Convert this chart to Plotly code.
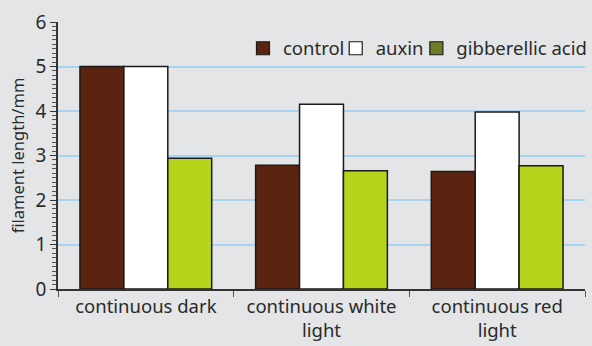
import plotly.graph_objects as go

categories = ["continuous dark", "continuous white<br>light", "continuous red<br>light"]
series_names = ["control", "auxin", "gibberellic acid"]
control = [5.0, 2.78, 2.64]
auxin = [5.0, 4.15, 3.98]
gibberellic = [2.94, 2.66, 2.77]
y_ticks = [0, 1, 2, 3, 4, 5, 6]

bar_colors = ["#5a2410", "#ffffff", "#b6d41c"]
legend_colors = ["#5a2410", "#ffffff", "#6e7d25"]
legend_ids = ["legend", "legend2", "legend3"]
legend_x = [0.351, 0.527, 0.680]
values = [control, auxin, gibberellic]

fig = go.Figure()
for name, vals, c in zip(series_names, values, bar_colors):
    fig.add_trace(go.Bar(x=categories, y=vals, name=name, showlegend=False,
                         marker=dict(color=c, line=dict(color="#1a1a1a", width=1.5))))
for name, c, lid in zip(series_names, legend_colors, legend_ids):
    fig.add_trace(go.Scatter(x=[None], y=[None], mode="markers", name=name, legend=lid,
                             marker=dict(symbol="square", size=13, color=c,
                                         line=dict(color="#1a1a1a", width=1.2))))

font = "Noto Sans, Open Sans, sans-serif"
legend_common = dict(orientation="h", yanchor="middle", y=0.9, xanchor="left",
                     bgcolor="rgba(0,0,0,0)", font=dict(size=18.5, color="#2a2a2a"),
                     itemwidth=30)
layout_legends = {lid: dict(legend_common, x=lx) for lid, lx in zip(legend_ids, legend_x)}

fig.update_layout(
    width=592, height=346,
    margin=dict(l=58, r=7, t=22, b=57, autoexpand=False),
    paper_bgcolor="#e3e5e7", plot_bgcolor="#e3e5e7",
    barmode="group", bargap=0.25, bargroupgap=0,
    font=dict(family=font, color="#2a2a2a", size=16),
    xaxis=dict(type="category", showgrid=False, showline=True, linecolor="#333",
               linewidth=1.5, ticks="outside", tickson="boundaries", ticklen=6,
               tickcolor="#555", tickfont=dict(size=18.5), range=[-0.5, 2.5],
               automargin=False),
    yaxis=dict(range=[0, 6], tickvals=y_ticks, showgrid=True, gridcolor="#a9d3ee",
               gridwidth=1.8, showline=True, linecolor="#333", linewidth=1.5,
               ticks="outside", ticklen=6, tickcolor="#333", tickfont=dict(size=19),
               zeroline=False, automargin=False,
               minor=dict(dtick=0.1, ticks="outside", ticklen=4, tickcolor="#555",
                          showgrid=False),
               title=dict(text="filament length/mm", font=dict(size=16.5), standoff=7)),
    **layout_legends,
)
fig.write_html("out.html", config={"displayModeBar": False},
               post_script="document.body.style.margin='0px';document.body.style.background='#e3e5e7';")
